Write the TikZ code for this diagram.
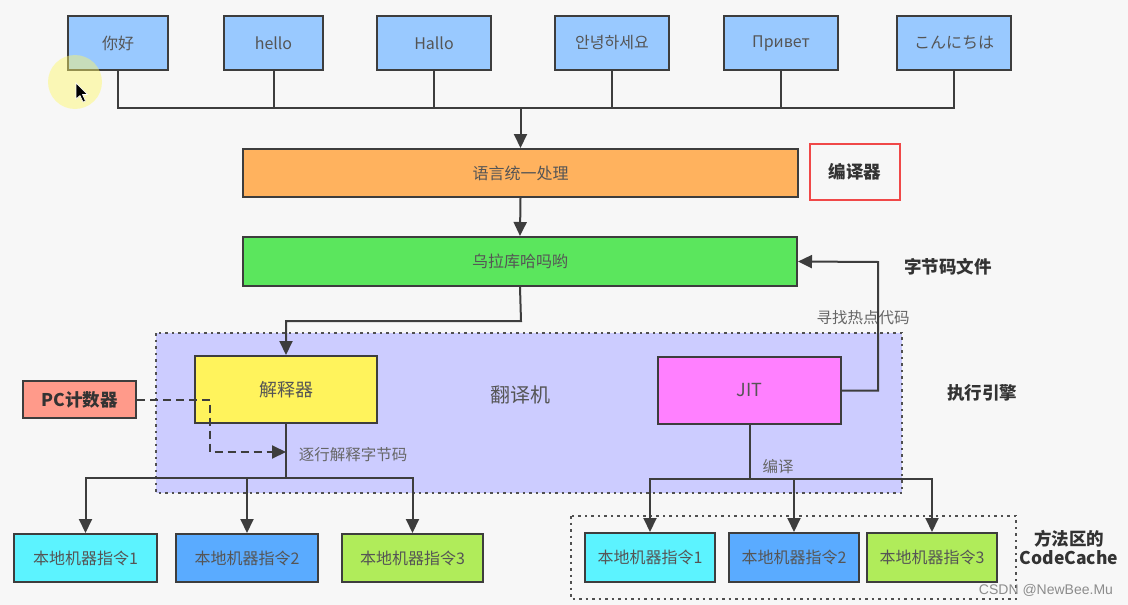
\documentclass[tikz,border=0pt]{standalone}
\usepackage{fontspec}
\setmainfont{Noto Sans CJK SC}
\newfontfamily\wmfont{Liberation Sans}
\usetikzlibrary{arrows.meta}
\definecolor{bgc}{HTML}{F7F7F7}
\definecolor{linec}{HTML}{3D3D3D}
\definecolor{txtc}{HTML}{555555}
\definecolor{lblc}{HTML}{666666}
\definecolor{boldc}{HTML}{333333}
\definecolor{topc}{HTML}{99C9FF}
\definecolor{orangec}{HTML}{FFB25E}
\definecolor{greenc}{HTML}{5BE65D}
\definecolor{regionc}{HTML}{CCCCFF}
\definecolor{yellowc}{HTML}{FFF35C}
\definecolor{magc}{HTML}{FF80FF}
\definecolor{pcc}{HTML}{FF9A8A}
\definecolor{cyanc}{HTML}{5CF3FF}
\definecolor{bluec}{HTML}{5AABFF}
\definecolor{limec}{HTML}{B0EC5A}
\definecolor{redc}{HTML}{F04848}
\begin{document}
\begin{tikzpicture}[x=1pt,y=-1pt,
  boxst/.style={draw=linec, line width=2pt, inner sep=0pt, text=txtc,
    font=\fontsize{16}{19}\selectfont},
  conn/.style={draw=linec, line width=2pt},
  arr/.style={conn, -{Triangle[length=14pt,width=13pt]}},
  dasharr/.style={conn, dash pattern=on 8pt off 5pt, -{Triangle[length=14pt,width=13pt]}},
  dotbox/.style={draw=linec!90, line width=2.5pt, dash pattern=on 2.5pt off 4pt},
  lbl/.style={text=lblc, font=\fontsize{15.5}{18}\selectfont, inner sep=0pt},
  boldlbl/.style={text=boldc, font=\fontsize{17.5}{21}\selectfont\bfseries, inner sep=0pt, align=center}
]
\useasboundingbox (0,0) rectangle (1128,605);
\fill[bgc] (0,0) rectangle (1128,605);

% regions
\path[fill=regionc, dotbox] (156,333) rectangle (902,493);
\path[dotbox] (571,516) rectangle (1016,599);

% top boxes
\node[boxst, fill=topc, minimum width=100pt, minimum height=54pt] (t1) at (118,43) {你好};
\node[boxst, fill=topc, minimum width=99pt, minimum height=54pt] (t2) at (273.5,43) {hello};
\node[boxst, fill=topc, minimum width=114pt, minimum height=54pt] (t3) at (434,43) {Hallo};
\node[boxst, fill=topc, minimum width=114pt, minimum height=54pt] (t4) at (612,43) {안녕하세요};
\node[boxst, fill=topc, minimum width=114pt, minimum height=54pt] (t5) at (781,43) {Привет};
\node[boxst, fill=topc, minimum width=114pt, minimum height=54pt] (t6) at (954,43) {こんにちは};

% main boxes
\node[boxst, fill=orangec, minimum width=555pt, minimum height=48pt] (proc) at (520.5,173) {语言统一处理};
\node[boxst, fill=greenc, minimum width=554pt, minimum height=49pt] (byte) at (520,261.5) {乌拉库哈吗哟};
\node[boxst, fill=yellowc, minimum width=182pt, minimum height=67pt, font=\fontsize{18}{21}\selectfont] (interp) at (286,389.5) {解释器};
\node[boxst, fill=magc, minimum width=183pt, minimum height=67pt, font=\fontsize{18}{21}\selectfont] (jit) at (749.5,390.5) {JIT};
\node[boxst, fill=pcc, minimum width=113pt, minimum height=37pt, text=boldc,
  font=\fontsize{17.5}{21}\selectfont\bfseries] (pc) at (79.5,399.5) {PC计数器};

% bottom boxes
\node[boxst, fill=cyanc, minimum width=143pt, minimum height=48pt] (l1) at (85.5,558) {本地机器指令1};
\node[boxst, fill=bluec, minimum width=142pt, minimum height=48pt] (l2) at (247,558) {本地机器指令2};
\node[boxst, fill=limec, minimum width=141pt, minimum height=48pt] (l3) at (412.5,558) {本地机器指令3};
\node[boxst, fill=cyanc, minimum width=130pt, minimum height=49pt] (r1) at (650,557.5) {本地机器指令1};
\node[boxst, fill=bluec, minimum width=130pt, minimum height=49pt] (r2) at (794,557.5) {本地机器指令2};
\node[boxst, fill=limec, minimum width=130pt, minimum height=49pt] (r3) at (932,557.5) {本地机器指令3};

% labels
\node[boldlbl, draw=redc, line width=1.6pt, minimum width=90pt, minimum height=56pt] (compiler) at (855,172) {编译器};
\node[boldlbl] (bytefile) at (948,267) {字节码文件};
\node[lbl] (hot) at (863,318) {寻找热点代码};
\node[text=txtc, font=\fontsize{20}{24}\selectfont, inner sep=0pt] (trans) at (520,395) {翻译机};
\node[boldlbl] (engine) at (982,393) {执行引擎};
\node[lbl] (line) at (353,455) {逐行解释字节码};
\node[lbl] (comp) at (778,467) {编译};
\node[boldlbl, font=\fontsize{17.5}{19}\selectfont\bfseries] (cache) at (1069,547) {方法区的\\CodeCache};
\node[text=black!45, font=\wmfont\fontsize{14}{16}\selectfont, inner sep=0pt] (wm) at (1046,590) {CSDN @NewBee.Mu};

% connectors: top bus
\coordinate (bus) at (0,108);
\foreach \n in {t1,t2,t3,t4,t5,t6} { \draw[conn] (\n.south) -- (\n.south |- bus); }
\draw[conn, line cap=rect] (t1.south |- bus) -- (t6.south |- bus);
\draw[arr] (proc.north |- bus) -- (proc.north);
\draw[arr] (proc.south) -- (byte.north);

% byte -> interpreter
\coordinate (bend) at (521,321);
\draw[arr] (byte.south) -- (bend) -| (interp.north);

% JIT -> byte (hot code)
\coordinate (hotc) at (878,262);
\draw[arr] (jit.east) -| (hotc) -- (byte.east);

% PC dashed
\coordinate (dashc) at (210,452);
\draw[dasharr] (pc.east) -| (dashc) -- (dashc -| interp.south);

% interpreter -> bottom left
\coordinate (lbus) at (286,478);
\draw[conn] (interp.south) -- (interp.south |- lbus);
\draw[conn, line cap=rect] (l1.north |- lbus) -- (l3.north |- lbus);
\foreach \n in {l1,l2,l3} { \draw[arr] (\n.north |- lbus) -- (\n.north); }

% JIT -> bottom right
\coordinate (rbus) at (750,479);
\draw[conn] (jit.south) -- (jit.south |- rbus);
\draw[conn, line cap=rect] (r1.north |- rbus) -- (r3.north |- rbus);
\foreach \n in {r1,r2,r3} { \draw[arr] (\n.north |- rbus) -- (\n.north); }

% screen-recording cursor
\fill[yellow!60!white, opacity=0.45] (75,82) circle (27);
\filldraw[fill=black, draw=white, line width=0.6pt] (76,83) -- (76,99) -- (80,95.5) -- (83,102) -- (85.5,101) -- (82.5,94.5) -- (87.5,94.5) -- cycle;
\end{tikzpicture}
\end{document}
